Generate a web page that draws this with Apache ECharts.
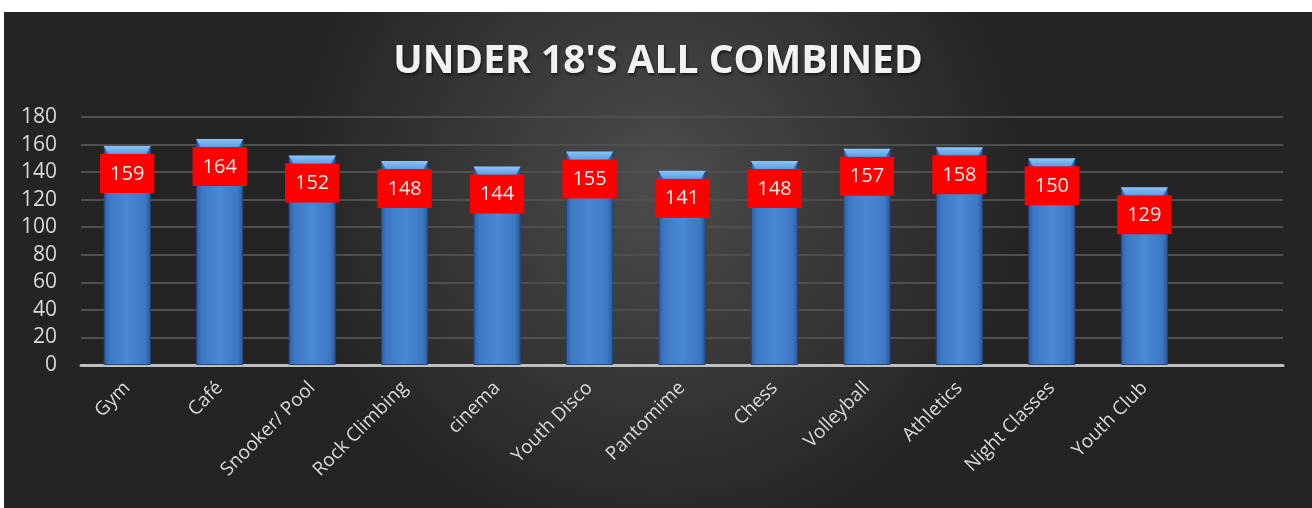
<!DOCTYPE html>
<html>
<head>
<meta charset="utf-8">
<script src="https://cdn.jsdelivr.net/npm/echarts@6/dist/echarts.min.js"></script>
<style>
  html, body { margin: 0; padding: 0; background: #fff; }
  #echartdiv { position: absolute; left: 4px; top: 12px; width: 1308px; height: 496px; }
</style>
</head>
<body>
<div id="echartdiv"></div>
<script>
// 活动类别（最后一个为空占位）
var pName = ["Gym", "Café", "Snooker/ Pool", "Rock Climbing", "cinema", "Youth Disco",
    "Pantomime", "Chess", "Volleyball", "Athletics", "Night Classes", "Youth Club", ""];
var pData = [159, 164, 152, 148, 144, 155, 141, 148, 157, 158, 150, 129, null];
var yTicks = [0, 20, 40, 60, 80, 100, 120, 140, 160, 180];

var dom = document.getElementById("echartdiv");
var myChart = echarts.init(dom);

var option = {
    backgroundColor: {
        type: 'radial', x: 0.5, y: 0.35, r: 0.75,
        colorStops: [
            {offset: 0, color: '#4c4c4c'},
            {offset: 1, color: '#242424'}
        ]
    },
    title: {
        text: "UNDER 18'S ALL COMBINED",
        left: 'center',
        top: 25,
        textStyle: {
            color: '#f2f2f2',
            fontFamily: 'Open Sans',
            fontWeight: 'bold',
            fontSize: 39,
            textShadowColor: 'rgba(0,0,0,0.6)',
            textShadowBlur: 3,
            textShadowOffsetX: 1,
            textShadowOffsetY: 2
        }
    },
    grid: {
        left: 77,
        right: 29,
        top: 105,
        bottom: 143
    },
    xAxis: [
        {
            type: 'category',
            data: pName,
            axisLine: {lineStyle: {color: '#bfbfbf', width: 3}},
            axisTick: {show: false},
            axisLabel: {
                color: '#d9d9d9',
                fontFamily: 'Open Sans',
                fontSize: 19,
                rotate: 45,
                margin: 20,
                interval: 0
            },
            splitLine: {show: false}
        }
    ],
    yAxis: [
        {
            type: 'value',
            min: 0,
            max: yTicks[yTicks.length - 1],
            interval: 20,
            axisLine: {show: false},
            axisTick: {show: false},
            axisLabel: {
                color: '#d9d9d9',
                fontFamily: 'Open Sans',
                fontSize: 21,
                margin: 24
            },
            splitLine: {lineStyle: {color: '#4f4f4f', width: 2}}
        }
    ],
    series: [
        {
            type: 'bar',
            data: pData,
            barWidth: '51%',
            itemStyle: {
                color: {
                    type: 'linear', x: 0, y: 0, x2: 1, y2: 0,
                    colorStops: [
                        {offset: 0, color: '#2f5d9e'},
                        {offset: 0.12, color: '#3d78c4'},
                        {offset: 0.5, color: '#4a88d4'},
                        {offset: 0.88, color: '#3d78c4'},
                        {offset: 1, color: '#2c5795'}
                    ]
                },
                borderColor: '#24467a',
                borderWidth: 1
            },
            label: {
                show: true,
                position: 'insideTop',
                distance: 8,
                color: '#f2f2f2',
                fontFamily: 'Open Sans',
                fontSize: 20,
                backgroundColor: '#ff0000',
                padding: [10, 10, 9, 10]
            },
            z: 2
        },
        {
            // 柱顶高光
            type: 'pictorialBar',
            data: pData,
            barWidth: '51%',
            barGap: '-100%',
            symbol: 'path://M0,0 L20,0 L18,3 L2,3 Z',
            symbolSize: ['100%', 8],
            symbolPosition: 'end',
            itemStyle: {
                color: {
                    type: 'linear', x: 0, y: 0, x2: 0, y2: 1,
                    colorStops: [
                        {offset: 0, color: '#8cc4f4'},
                        {offset: 1, color: '#5a9ee6'}
                    ]
                }
            },
            silent: true,
            z: 3
        }
    ]
};

myChart.setOption(option);
</script>
</body>
</html>
